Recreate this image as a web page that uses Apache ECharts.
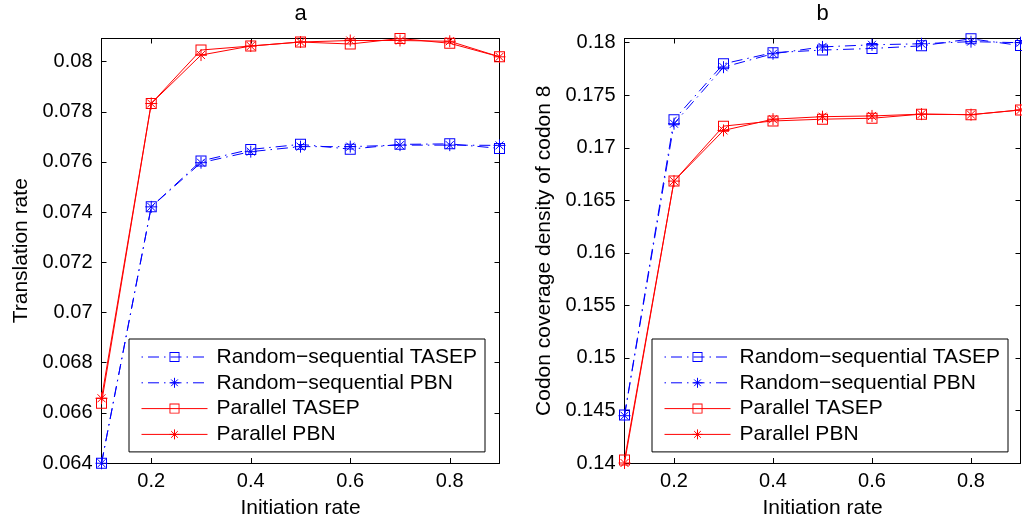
<!DOCTYPE html>
<html>
<head>
<meta charset="utf-8">
<script src="https://cdn.jsdelivr.net/npm/echarts@6/dist/echarts.min.js"></script>
<style>
html,body{margin:0;padding:0;background:#fff;}
#chart{width:1022px;height:524px;}
</style>
</head>
<body>
<div id="chart"></div>
<script>
// ---- data ----
const initiationRates = [0.1, 0.2, 0.3, 0.4, 0.5, 0.6, 0.7, 0.8, 0.9];
const seriesNames = ['Random\u2212sequential TASEP', 'Random\u2212sequential PBN', 'Parallel TASEP', 'Parallel PBN'];

// panel a: translation rate
const rsTasepA  = [0.06399, 0.07421, 0.07604, 0.07650, 0.07670, 0.07651, 0.07670, 0.07672, 0.07654];
const rsPbnA    = [0.06399, 0.07421, 0.07597, 0.07641, 0.07661, 0.07661, 0.07667, 0.07667, 0.07666];
const parTasepA = [0.06638, 0.07833, 0.08046, 0.08062, 0.08078, 0.08070, 0.08092, 0.08073, 0.08019];
const parPbnA   = [0.06658, 0.07833, 0.08026, 0.08062, 0.08078, 0.08084, 0.08084, 0.08081, 0.08019];

// panel b: codon coverage density of codon 8
const rsTasepB  = [0.14456, 0.17267, 0.17799, 0.17905, 0.17930, 0.17945, 0.17970, 0.18037, 0.17973];
const rsPbnB    = [0.14450, 0.17229, 0.17767, 0.17895, 0.17960, 0.17980, 0.17990, 0.18010, 0.18000];
const parTasepB = [0.14029, 0.16683, 0.17206, 0.17255, 0.17272, 0.17281, 0.17320, 0.17315, 0.17360];
const parPbnB   = [0.14000, 0.16683, 0.17165, 0.17272, 0.17296, 0.17303, 0.17320, 0.17315, 0.17360];

// ticks
const xTickValues = [0.2, 0.4, 0.6, 0.8];
const xTickLabels = ['0.2', '0.4', '0.6', '0.8'];
const yTickValuesA = [0.064, 0.066, 0.068, 0.070, 0.072, 0.074, 0.076, 0.078, 0.080];
const yTickLabelsA = ['0.064', '0.066', '0.068', '0.07', '0.072', '0.074', '0.076', '0.078', '0.08'];
const yTickValuesB = [0.140, 0.145, 0.150, 0.155, 0.160, 0.165, 0.170, 0.175, 0.180];
const yTickLabelsB = ['0.14', '0.145', '0.15', '0.155', '0.16', '0.165', '0.17', '0.175', '0.18'];
const titles = ['a', 'b'];
const xAxisName = 'Initiation rate';
const yAxisNames = ['Translation rate', 'Codon coverage density of codon 8'];

// ---- styles ----
const FONT = "'Liberation Sans', Arial, Helvetica, sans-serif";
const BLUE = '#0000ff', RED = '#ff0000';
const DASHDOT = [11, 5, 1.5, 5];
const SQUARE = 'path://M0,0L11,0L11,11L0,11Z M1,1L1,10L10,10L10,1Z';
const STAR = 'path://M6,0L6,12M0,6L12,6M2,2L10,10M10,2L2,10';
const styleDefs = [
  {color: BLUE, dash: DASHDOT, symbol: SQUARE, size: 11, border: 0},
  {color: BLUE, dash: DASHDOT, symbol: STAR, size: 12, border: 1},
  {color: RED, dash: 'solid', symbol: SQUARE, size: 11, border: 0},
  {color: RED, dash: 'solid', symbol: STAR, size: 12, border: 1}
];

function labelFor(vals, labels) {
  return function (v) {
    let best = 0;
    for (let i = 1; i < vals.length; i++) if (Math.abs(vals[i] - v) < Math.abs(vals[best] - v)) best = i;
    return labels[best];
  };
}

const grids = [
  {left: 101.5, right: 522.5, top: 38.5, bottom: 61},
  {left: 624.5, right: 1.5, top: 38.5, bottom: 61}
];
const yRanges = [[0.064, 0.08092], [0.14, 0.1804]];
const yTicks = [[yTickValuesA, yTickLabelsA], [yTickValuesB, yTickLabelsB]];
const panelData = [[rsTasepA, rsPbnA, parTasepA, parPbnA], [rsTasepB, rsPbnB, parTasepB, parPbnB]];

const axisLine = {show: true, onZero: false, lineStyle: {color: '#000', width: 1}};
const xAxes = [], yAxes = [], series = [], legends = [], titleOpts = [];

for (let g = 0; g < 2; g++) {
  xAxes.push({
    type: 'value', gridIndex: g, min: 0.1, max: 0.9, position: 'bottom',
    axisLine: axisLine, splitLine: {show: false},
    axisTick: {show: true, inside: true, length: 5, customValues: xTickValues, lineStyle: {color: '#000'}},
    axisLabel: {show: true, customValues: xTickValues, formatter: labelFor(xTickValues, xTickLabels),
      color: '#000', fontSize: 20, fontFamily: FONT, margin: 8},
    name: xAxisName, nameLocation: 'middle', nameGap: 35,
    nameTextStyle: {color: '#000', fontSize: 21, fontFamily: FONT}
  });
  xAxes.push({
    type: 'value', gridIndex: g, min: 0.1, max: 0.9, position: 'top',
    axisLine: axisLine, splitLine: {show: false},
    axisTick: {show: true, inside: true, length: 5, customValues: xTickValues, lineStyle: {color: '#000'}},
    axisLabel: {show: false}
  });
  yAxes.push({
    type: 'value', gridIndex: g, min: yRanges[g][0], max: yRanges[g][1], position: 'left',
    axisLine: axisLine, splitLine: {show: false},
    axisTick: {show: true, inside: true, length: 5, customValues: yTicks[g][0], lineStyle: {color: '#000'}},
    axisLabel: {show: true, customValues: yTicks[g][0], formatter: labelFor(yTicks[g][0], yTicks[g][1]),
      color: '#000', fontSize: 20, fontFamily: FONT, margin: 9},
    name: yAxisNames[g], nameLocation: 'middle', nameGap: 70,
    nameTextStyle: {color: '#000', fontSize: 21, fontFamily: FONT}
  });
  yAxes.push({
    type: 'value', gridIndex: g, min: yRanges[g][0], max: yRanges[g][1], position: 'right',
    axisLine: axisLine, splitLine: {show: false},
    axisTick: {show: true, inside: true, length: 5, customValues: yTicks[g][0], lineStyle: {color: '#000'}},
    axisLabel: {show: false}
  });

  for (let s = 0; s < 4; s++) {
    const st = styleDefs[s];
    series.push({
      name: seriesNames[s], type: 'line', xAxisIndex: g * 2, yAxisIndex: g * 2,
      data: initiationRates.map((x, i) => [x, panelData[g][s][i]]),
      symbol: st.symbol, symbolSize: st.size, showSymbol: true, showAllSymbol: true, clip: false,
      lineStyle: {color: st.color, width: 1, type: st.dash},
      itemStyle: {color: st.color, borderColor: st.color, borderWidth: st.border},
      emphasis: {disabled: true}, z: 2 + s
    });
  }

  legends.push({
    orient: 'vertical', left: g === 0 ? 129 : 652, top: 339,
    backgroundColor: '#fff', borderColor: '#000', borderWidth: 1, borderRadius: 0,
    padding: [7.5, 8, 7, 12], itemWidth: 66, itemHeight: 12.5, itemGap: 4.8,
    selectedMode: false,
    textStyle: {color: '#000', fontSize: 21, fontFamily: FONT, padding: [0, 0, 0, 4]},
    data: seriesNames.map((n, s) => ({
      name: n,
      itemStyle: {color: styleDefs[s].color, borderColor: styleDefs[s].color, borderWidth: styleDefs[s].border},
      lineStyle: {color: styleDefs[s].color, width: 1, type: styleDefs[s].dash, dashOffset: styleDefs[s].dash === 'solid' ? 0 : 16}
    }))
  });

  titleOpts.push({
    text: titles[g], left: g === 0 ? 300.5 : 822.5, top: 3, textAlign: 'center', padding: 0,
    textStyle: {color: '#000', fontSize: 22, fontWeight: 'normal', fontFamily: FONT}
  });
}

const chart = echarts.init(document.getElementById('chart'), null, {renderer: 'canvas'});
chart.setOption({
  animation: false,
  backgroundColor: '#fff',
  title: titleOpts,
  grid: grids,
  xAxis: xAxes,
  yAxis: yAxes,
  legend: legends,
  series: series
});
</script>
</body>
</html>
